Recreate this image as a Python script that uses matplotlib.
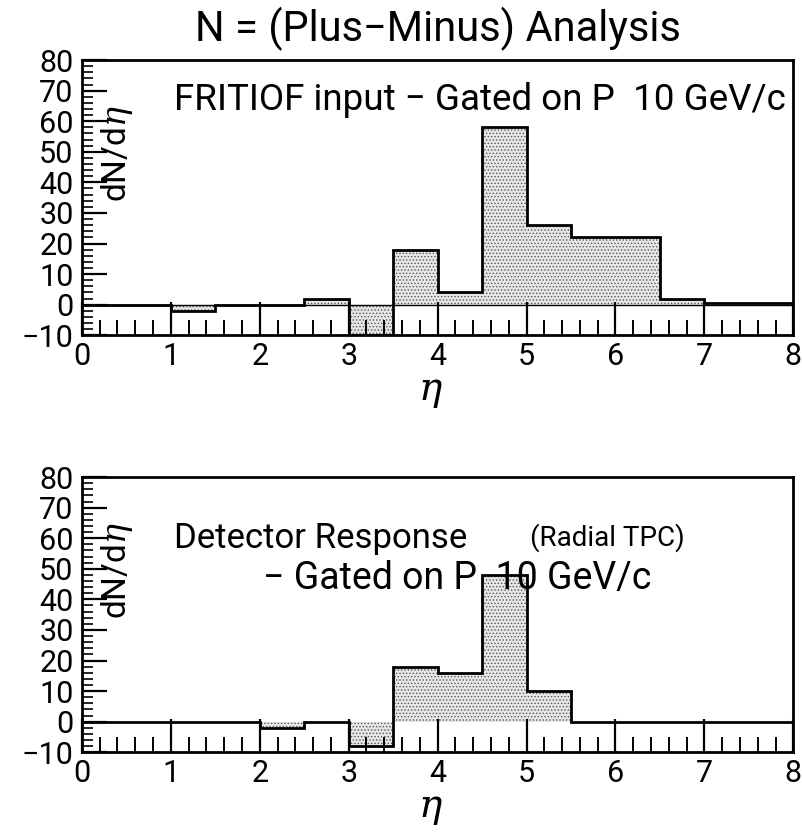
import numpy as np
import matplotlib
matplotlib.use("Agg")
import matplotlib.pyplot as plt
from matplotlib.ticker import MultipleLocator

plt.rcParams['font.family'] = ['Roboto', 'DejaVu Sans']
plt.rcParams['mathtext.fontset'] = 'dejavuserif'
plt.rcParams['hatch.linewidth'] = 0.6

# eta bin edges (0.5 wide) and dN/deta per bin
eta_edges = np.arange(0, 8.01, 0.5)
fritiof_vals = [0, 0, -2, 0, 0, 2, -10, 18, 4, 58, 26, 22, 22, 2, 0.5, 0.5]
detector_vals = [0, 0, 0, 0, -2, 0, -8, 18, 16, 48, 10, 0, 0, 0, 0, 0]

x_ticks = list(range(0, 9))
y_ticks = list(range(-10, 81, 10))


def draw_panel(ax, vals, zero_line):
    ax.stairs(vals, eta_edges, baseline=0, fill=True, facecolor='#e6e6e6',
              edgecolor='#555555', hatch='.....', linewidth=0)
    if zero_line:
        ax.axhline(0, color='black', lw=1.0)
    ax.stairs(vals, eta_edges, baseline=None, color='black', lw=2.0)
    ax.set_xlim(0, 8)
    ax.set_ylim(-10, 80)
    ax.set_xticks(x_ticks)
    ax.set_yticks(y_ticks)
    ax.xaxis.set_minor_locator(MultipleLocator(0.2))
    ax.yaxis.set_minor_locator(MultipleLocator(2))
    ax.tick_params(axis='x', which='major', direction='in', length=24, width=1.6,
                   labelsize=22, pad=5)
    ax.tick_params(axis='x', which='minor', direction='in', length=11, width=1.4)
    ax.tick_params(axis='y', which='major', direction='in', length=18, width=1.6,
                   labelsize=22, pad=6)
    ax.tick_params(axis='y', which='minor', direction='in', length=8, width=1.2)
    for s in ax.spines.values():
        s.set_linewidth(2.0)
    ax.text(0.05, 0.66, r'dN/d$\eta$', transform=ax.transAxes, rotation=90,
            ha='center', va='center', fontsize=24)
    ax.text(0.49, -0.205, r'$\eta$', transform=ax.transAxes, ha='center',
            va='center', fontsize=28)


fig = plt.figure(figsize=(8.03, 8.34), dpi=100)
ax1 = fig.add_axes([0.102, 0.598, 0.886, 0.330])
ax2 = fig.add_axes([0.102, 0.098, 0.886, 0.330])

draw_panel(ax1, fritiof_vals, True)
draw_panel(ax2, detector_vals, False)

fig.text(0.545, 0.965, 'N = (Plus\u2212Minus) Analysis', ha='center', va='center',
         fontsize=30)

ax1.text(0.13, 0.855, 'FRITIOF input \u2212 Gated on P  10 GeV/c', transform=ax1.transAxes,
         ha='left', va='center', fontsize=26.5)

ax2.text(0.13, 0.775, 'Detector Response', transform=ax2.transAxes,
         ha='left', va='center', fontsize=25)
ax2.text(0.63, 0.78, '(Radial TPC)', transform=ax2.transAxes,
         ha='left', va='center', fontsize=20)
ax2.text(0.255, 0.63, '\u2212 Gated on P  10 GeV/c', transform=ax2.transAxes,
         ha='left', va='center', fontsize=27)

fig.savefig('out.png', dpi=100)
